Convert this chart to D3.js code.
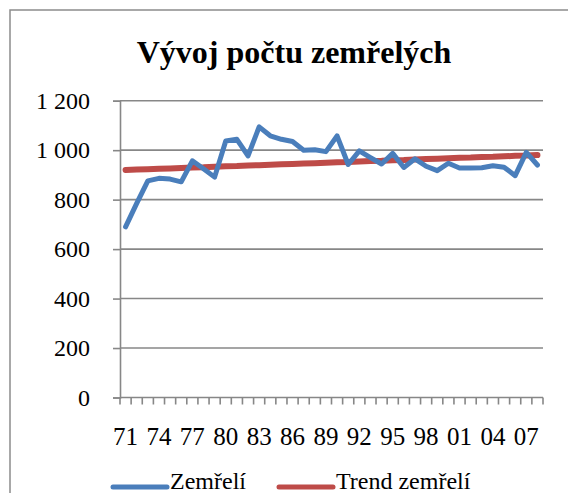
<!DOCTYPE html>
<html>
<head>
<meta charset="utf-8">
<script src="https://cdn.jsdelivr.net/npm/d3@7"></script>
<style>
  html, body { margin: 0; padding: 0; background: #fff; overflow: hidden; }
  svg { display: block; }
</style>
</head>
<body>
<svg id="chart" width="568" height="493"></svg>
<script>
const years = ["71","72","73","74","75","76","77","78","79","80","81","82","83","84","85","86","87","88","89","90","91","92","93","94","95","96","97","98","99","00","01","02","03","04","05","06","07","08"];
const deaths = [690, 785, 876, 886, 883, 872, 957, 925, 891, 1037, 1044, 977, 1094, 1058, 1044, 1035, 1000, 1002, 994, 1058, 942, 997, 970, 944, 987, 930, 965, 935, 917, 947, 928, 928, 929, 937, 931, 897, 991, 940];
const trend = [920, 922, 923, 925, 926, 928, 930, 931, 933, 935, 936, 938, 939, 941, 943, 944, 946, 947, 949, 951, 952, 954, 956, 957, 959, 960, 962, 964, 965, 967, 969, 970, 972, 973, 975, 977, 978, 980];
const yTicks = [0, 200, 400, 600, 800, 1000, 1200];
const labelYears = ["71","74","77","80","83","86","89","92","95","98","01","04","07"];
const seriesNames = ["Zemřelí", "Trend zemřelí"];
const title = "Vývoj počtu zemřelých";

const FONT = "Liberation Serif, DejaVu Serif, Times New Roman, serif";
const svg = d3.select("#chart");
const W = 568, H = 493;
const pLeft = 120, pRight = 543, pTop = 100.7, pBottom = 397.5;
const gridCol = "#878787";
const colors = ["#4A7EBB", "#BE4B48"];

svg.append("rect").attr("x", 10).attr("y", 10).attr("width", W + 20).attr("height", H + 20)
  .attr("fill", "#fff").attr("stroke", "#8c8c8c").attr("stroke-width", 1.5);

const x = d3.scaleBand().domain(years).range([pLeft, pRight]).paddingInner(0).paddingOuter(0);
const y = d3.scaleLinear().domain([0, 1200]).range([pBottom, pTop]);

svg.append("g").selectAll("line").data(yTicks.filter(d => d > 0)).join("line")
  .attr("x1", pLeft).attr("x2", pRight)
  .attr("y1", d => y(d)).attr("y2", d => y(d))
  .attr("stroke", gridCol).attr("stroke-width", 1.6);

const fmt = d => d3.format(",")(d).replace(/,/g, "\u00a0");
const yAxis = svg.append("g").attr("transform", `translate(${pLeft},0)`)
  .call(d3.axisLeft(y).tickValues(yTicks).tickSize(7).tickPadding(23).tickFormat(fmt));
yAxis.attr("font-family", null).attr("font-size", null);
yAxis.select(".domain").attr("stroke", gridCol).attr("stroke-width", 1.6);
yAxis.selectAll(".tick line").attr("stroke", gridCol).attr("stroke-width", 1.6);
yAxis.selectAll("text").style("font-family", FONT).style("font-size", "24px").attr("fill", "#000");

const bounds = years.map(d => x(d)).concat([x(years[years.length - 1]) + x.bandwidth()]);
svg.append("g").selectAll("line").data(bounds).join("line")
  .attr("x1", d => d).attr("x2", d => d)
  .attr("y1", pBottom).attr("y2", pBottom + 7)
  .attr("stroke", gridCol).attr("stroke-width", 1.6);
svg.append("line").attr("x1", pLeft).attr("x2", pRight).attr("y1", pBottom).attr("y2", pBottom)
  .attr("stroke", gridCol).attr("stroke-width", 1.6);
svg.append("g").selectAll("text").data(labelYears).join("text")
  .attr("x", d => x(d) + x.bandwidth() / 2).attr("y", 445)
  .attr("text-anchor", "middle").style("font-family", FONT).style("font-size", "25px").text(d => d);

const line = d3.line().x((d, i) => x(years[i]) + x.bandwidth() / 2).y(d => y(d));
svg.append("path").datum(trend).attr("d", line).attr("fill", "none")
  .attr("stroke", colors[1]).attr("stroke-width", 6).attr("stroke-linecap", "round").attr("stroke-linejoin", "round");
svg.append("path").datum(deaths).attr("d", line).attr("fill", "none")
  .attr("stroke", colors[0]).attr("stroke-width", 5).attr("stroke-linecap", "round").attr("stroke-linejoin", "round");

svg.append("text").attr("x", 294).attr("y", 63).attr("text-anchor", "middle")
  .style("font-family", FONT).style("font-size", "32px").style("font-weight", "bold").text(title);

const legX = [113, 279];
const lg = svg.append("g").selectAll("g").data(seriesNames).join("g");
lg.append("line").attr("x1", (d, i) => legX[i]).attr("x2", (d, i) => legX[i] + 54)
  .attr("y1", 487).attr("y2", 487)
  .attr("stroke", (d, i) => colors[i]).attr("stroke-width", 5).attr("stroke-linecap", "round");
lg.append("text").attr("x", (d, i) => legX[i] + 57).attr("y", 489)
  .style("font-family", FONT).style("font-size", "24px").text(d => d);
</script>
</body>
</html>
